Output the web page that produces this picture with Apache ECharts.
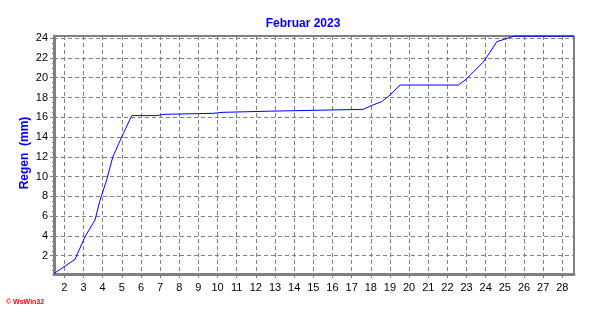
<!DOCTYPE html>
<html>
<head>
<meta charset="utf-8">
<script src="https://cdn.jsdelivr.net/npm/echarts@6/dist/echarts.min.js"></script>
<style>
html,body{margin:0;padding:0;background:#fff;}
#c{width:592px;height:321px;}
</style>
</head>
<body>
<div id="c"></div>
<script>
const title = 'Februar 2023';
const yName = 'Regen  (mm)';
const credit = '© WsWin32';
const xTickDays = [2,3,4,5,6,7,8,9,10,11,12,13,14,15,16,17,18,19,20,21,22,23,24,25,26,27,28];
const yTickValues = [2,4,6,8,10,12,14,16,18,20,22,24];
const days = [1.46, 2.56, 3.08, 3.6, 3.86, 4.21, 4.53, 5.08, 5.52, 6.78, 6.8, 7.28, 7.3, 9.76, 9.78, 10.28, 10.3, 12.78, 12.8, 17.6, 18.05, 18.57, 19.0, 19.53, 22.57, 22.98, 23.19, 23.36, 23.88, 24.3, 24.58, 25.0, 25.45, 28.61];
const rain = [0.2, 1.64, 3.93, 5.6, 7.6, 9.66, 12.0, 14.37, 16.17, 16.17, 16.3, 16.3, 16.4, 16.4, 16.5, 16.5, 16.62, 16.62, 16.8, 16.8, 17.2, 17.58, 18.25, 19.26, 19.26, 19.85, 20.28, 20.6, 21.6, 22.8, 23.65, 23.9, 24.2, 24.2];
const xMin = 1.46, xMax = 28.61, yMin = 0.15, yMax = 24.22;

// minor tick positions (axis decoration only)
const xMinor = [];
for (let d = 1.5; d < xMax; d += 0.25) if (d > xMin) xMinor.push(+d.toFixed(2));
const yMinor = [];
for (let v = 0.5; v < yMax; v += 0.5) if (v > yMin) yMinor.push(v);

const chart = echarts.init(document.getElementById('c'), null, {renderer: 'canvas'});
const font = 'Liberation Sans, Arial, sans-serif';
const dash = {color: '#808080', type: [4, 3], width: 1};
chart.setOption({
  backgroundColor: '#ffffff',
  animation: false,
  title: {
    text: title, left: 298, top: 13, textAlign: 'center',
    textStyle: {color: '#0000ff', fontSize: 12, fontWeight: 'bold', fontFamily: font}
  },
  grid: {left: 54, right: 18, top: 36, bottom: 47, show: true, borderColor: '#000', borderWidth: 1, backgroundColor: 'transparent'},
  xAxis: [{
    type: 'value', min: xMin, max: xMax,
    axisLine: {show: true, lineStyle: {color: '#808080', width: 3}},
    axisTick: {show: true, customValues: xTickDays, length: 4, lineStyle: {color: '#808080', width: 1}},
    axisLabel: {show: true, customValues: xTickDays, color: '#000', fontSize: 11, fontFamily: font, margin: 8},
    splitLine: {show: true, lineStyle: dash}
  }, {
    type: 'value', min: xMin, max: xMax, position: 'bottom',
    axisLine: {show: false},
    axisTick: {show: true, customValues: xMinor, length: 2, lineStyle: {color: '#808080', width: 1}},
    axisLabel: {show: false},
    splitLine: {show: false}
  }],
  yAxis: [{
    type: 'value', min: yMin, max: yMax,
    axisLine: {show: true, lineStyle: {color: '#808080', width: 3}},
    axisTick: {show: true, customValues: yTickValues, length: 4, lineStyle: {color: '#808080', width: 1}},
    axisLabel: {show: true, customValues: yTickValues, color: '#000', fontSize: 11, fontFamily: font, margin: 6},
    splitLine: {show: true, lineStyle: dash}
  }, {
    type: 'value', min: yMin, max: yMax, position: 'left',
    axisLine: {show: false},
    axisTick: {show: true, customValues: yMinor, length: 2, lineStyle: {color: '#808080', width: 1}},
    axisLabel: {show: false},
    splitLine: {show: false}
  }],
  series: [{
    type: 'line', data: days.map((d, i) => [d, rain[i]]),
    showSymbol: false, symbol: 'none',
    lineStyle: {color: '#0000ff', width: 1},
    clip: false
  }],
  graphic: [{
    type: 'text', x: 25, y: 153, rotation: Math.PI / 2,
    style: {text: yName, fill: '#0000ff', font: 'bold 12px ' + font, align: 'center', verticalAlign: 'middle'}
  }, {
    type: 'text', left: 6, top: 299,
    style: {text: credit, fill: '#ff0000', font: 'bold 7px ' + font}
  }]
});
</script>
</body>
</html>
